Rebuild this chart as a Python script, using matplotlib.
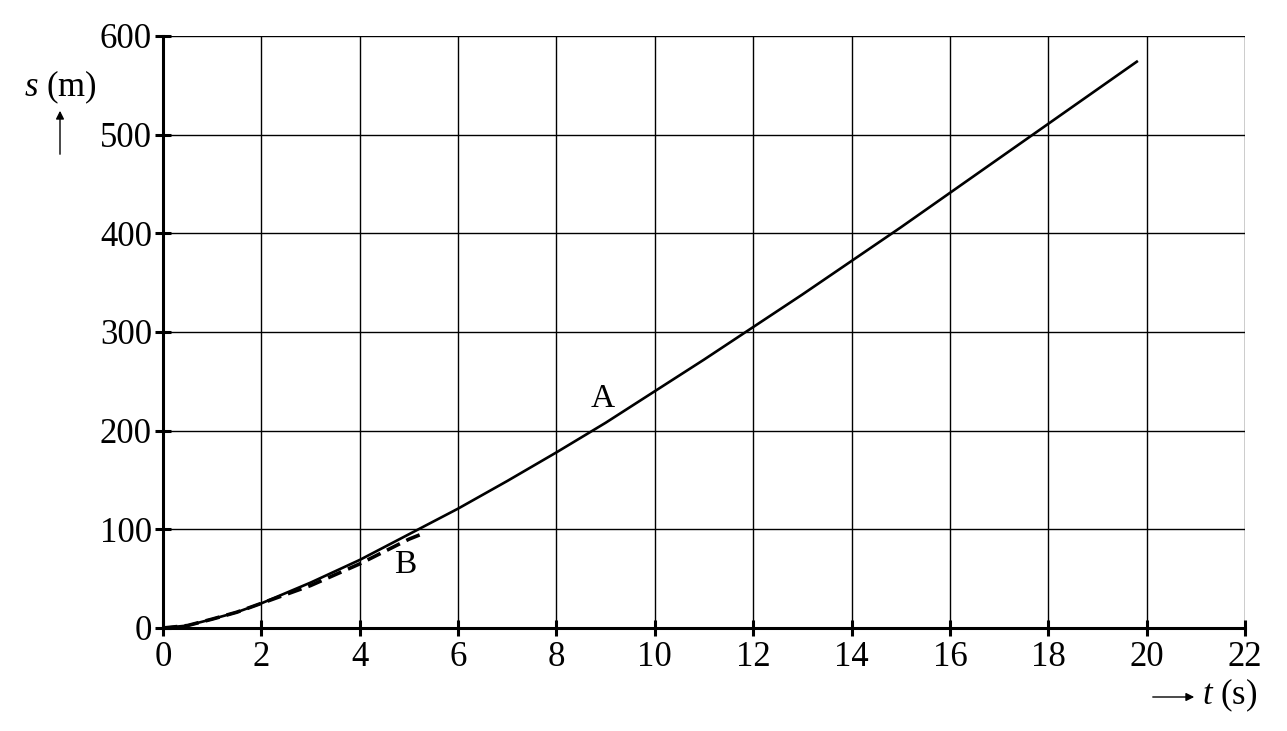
import matplotlib
matplotlib.use("Agg")
from matplotlib import pyplot as plt

# values
tA = [0, 0.5, 1, 1.5, 2, 3, 4, 5, 6, 7, 8, 9, 10, 11, 12, 13, 14, 15, 16, 17, 18, 19, 19.8]
sA = [0, 2.5, 9, 16, 25, 46, 69, 95, 121, 149, 178, 208, 240, 272, 305, 338, 372, 406, 441, 476, 511, 546, 574]

tB = [0, 0.5, 1, 1.5, 2, 3, 4, 5, 5.35]
sB = [0, 2.5, 9, 16, 25, 43, 65, 90, 97]

x_ticks = list(range(0, 23, 2))
y_ticks = list(range(0, 601, 100))

plt.rcParams['font.family'] = ['Liberation Serif', 'DejaVu Serif']
plt.rcParams['mathtext.fontset'] = 'custom'
plt.rcParams['mathtext.rm'] = 'Liberation Serif'
plt.rcParams['mathtext.it'] = 'Liberation Serif:italic'

fig = plt.figure(figsize=(12.87, 7.31), dpi=100)
ax = fig.add_axes([163 / 1287, 1 - 628 / 731, (1245 - 163) / 1287, (628 - 36) / 731])

ax.set_xlim(0, 22)
ax.set_ylim(0, 600)
ax.set_xticks(x_ticks)
ax.set_yticks(y_ticks)
ax.grid(True, color='black', linewidth=1.0)
ax.set_axisbelow(True)

for side in ['top', 'right']:
    ax.spines[side].set_visible(False)
for side in ['left', 'bottom']:
    ax.spines[side].set_linewidth(2.2)

ax.tick_params(direction='inout', length=12, width=2.2, labelsize=25, pad=2)
ax.tick_params(axis='x', pad=3)

# curves
ax.plot(tA, sA, color='black', linewidth=1.9, zorder=3)
ax.plot(tB, sB, color='black', linewidth=2.6, dashes=(4, 2), zorder=4)

ax.text(8.95, 232, 'A', fontsize=24, ha='center', va='center')
ax.text(4.93, 64, 'B', fontsize=24, ha='center', va='center')

# axis labels with arrows
fig.text(60 / 1287, 1 - 87 / 731, r'$s$ (m)', fontsize=25, ha='center', va='center')
fig.add_artist(matplotlib.patches.FancyArrowPatch(
    (60 / 1287, 1 - 157 / 731), (60 / 1287, 1 - 108 / 731),
    transform=fig.transFigure, arrowstyle='-|>', mutation_scale=12, color='black', linewidth=1.0))

fig.text(1230 / 1287, 1 - 695 / 731, r'$t$ (s)', fontsize=25, ha='center', va='center')
fig.add_artist(matplotlib.patches.FancyArrowPatch(
    (1150 / 1287, 1 - 697 / 731), (1197 / 1287, 1 - 697 / 731),
    transform=fig.transFigure, arrowstyle='-|>', mutation_scale=12, color='black', linewidth=1.0))

fig.savefig('out.png', dpi=100)
